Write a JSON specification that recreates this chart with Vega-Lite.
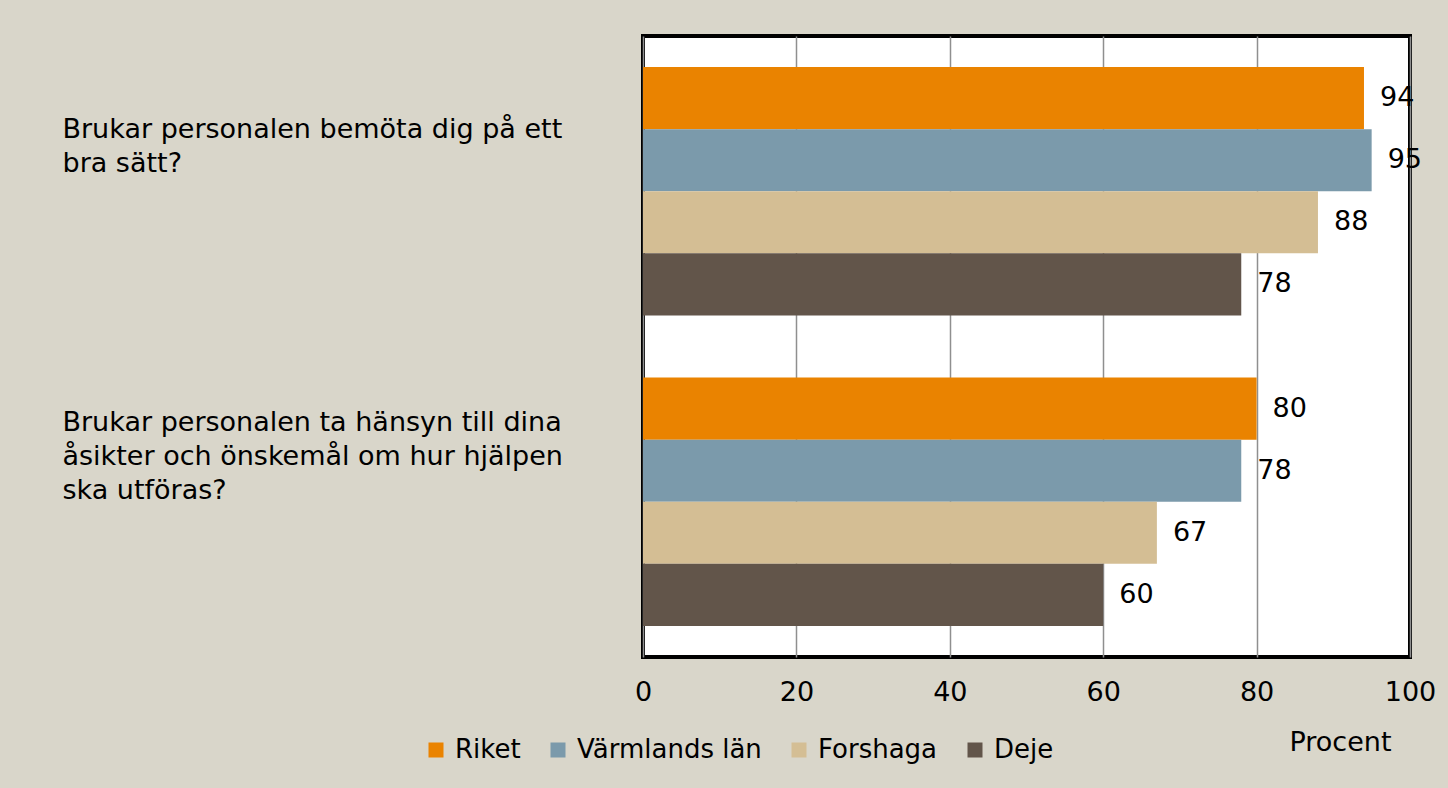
{
  "$schema": "https://vega.github.io/schema/vega-lite/v6.json",
  "autosize": {"type": "none"},
  "padding": {"left": 643, "top": 36, "right": 38, "bottom": 131},
  "width": 767,
  "height": 621,
  "background": "#D9D6CA",
  "data": {
    "values": [
      {"fraga": "Brukar personalen bemöta dig på ett|bra sätt?", "grupp": "Riket", "procent": 94},
      {"fraga": "Brukar personalen bemöta dig på ett|bra sätt?", "grupp": "Värmlands län", "procent": 95},
      {"fraga": "Brukar personalen bemöta dig på ett|bra sätt?", "grupp": "Forshaga", "procent": 88},
      {"fraga": "Brukar personalen bemöta dig på ett|bra sätt?", "grupp": "Deje", "procent": 78},
      {"fraga": "Brukar personalen ta hänsyn till dina|åsikter och önskemål om hur hjälpen|ska utföras?", "grupp": "Riket", "procent": 80},
      {"fraga": "Brukar personalen ta hänsyn till dina|åsikter och önskemål om hur hjälpen|ska utföras?", "grupp": "Värmlands län", "procent": 78},
      {"fraga": "Brukar personalen ta hänsyn till dina|åsikter och önskemål om hur hjälpen|ska utföras?", "grupp": "Forshaga", "procent": 67},
      {"fraga": "Brukar personalen ta hänsyn till dina|åsikter och önskemål om hur hjälpen|ska utföras?", "grupp": "Deje", "procent": 60}
    ]
  },
  "encoding": {
    "y": {
      "field": "fraga",
      "type": "nominal",
      "sort": null,
      "scale": {"paddingInner": 0.2, "paddingOuter": 0.1},
      "axis": {
        "title": null,
        "ticks": false,
        "domain": false,
        "grid": false,
        "labelAlign": "left",
        "labelBaseline": "middle",
        "labelPadding": 581,
        "labelOffset": {"condition": {"test": "indexof(datum.value, 'hänsyn') >= 0", "value": -79}, "value": -61},
        "labelLimit": 600,
        "labelLineHeight": 34,
        "labelFontSize": 27,
        "labelColor": "#000000",
        "labelExpr": "split(datum.value, '|')"
      }
    },
    "yOffset": {
      "field": "grupp",
      "type": "nominal",
      "scale": {"domain": ["Riket", "Värmlands län", "Forshaga", "Deje"]}
    },
    "x": {
      "field": "procent",
      "type": "quantitative",
      "scale": {"domain": [0, 100], "nice": false},
      "axis": {
        "values": [0, 20, 40, 60, 80, 100],
        "grid": true,
        "gridColor": "#8F8F8F",
        "gridWidth": 1.5,
        "domain": false,
        "ticks": false,
        "labelFlush": false,
        "labelOverlap": false,
        "labelFontSize": 27,
        "labelColor": "#000000",
        "labelPadding": 22,
        "title": "Procent",
        "titleFontSize": 27,
        "titleFontWeight": "normal",
        "titleColor": "#000000",
        "titleX": 697,
        "titleY": 93,
        "titleAlign": "center",
        "titleBaseline": "alphabetic"
      }
    }
  },
  "layer": [
    {
      "mark": {"type": "bar"},
      "encoding": {
        "color": {
          "field": "grupp",
          "type": "nominal",
          "scale": {
            "domain": ["Riket", "Värmlands län", "Forshaga", "Deje"],
            "range": ["#EA8300", "#7B9AAB", "#D4BE94", "#62554A"]
          },
          "legend": {
            "title": null,
            "orient": "none",
            "legendX": -220,
            "legendY": 701,
            "direction": "horizontal",
            "symbolType": "square",
            "symbolSize": 225,
            "symbolStrokeWidth": 0,
            "labelFontSize": 26,
            "labelColor": "#000000",
            "labelOffset": 6,
            "columnPadding": 24,
            "labelLimit": 300
          }
        }
      }
    },
    {
      "mark": {"type": "text", "align": "left", "baseline": "middle", "dx": 16, "fontSize": 27, "color": "#000000"},
      "encoding": {"text": {"field": "procent", "type": "quantitative"}}
    }
  ],
  "config": {
    "font": "DejaVu Sans",
    "view": {"fill": "#FFFFFF", "stroke": "#000000", "strokeWidth": 4}
  }
}
